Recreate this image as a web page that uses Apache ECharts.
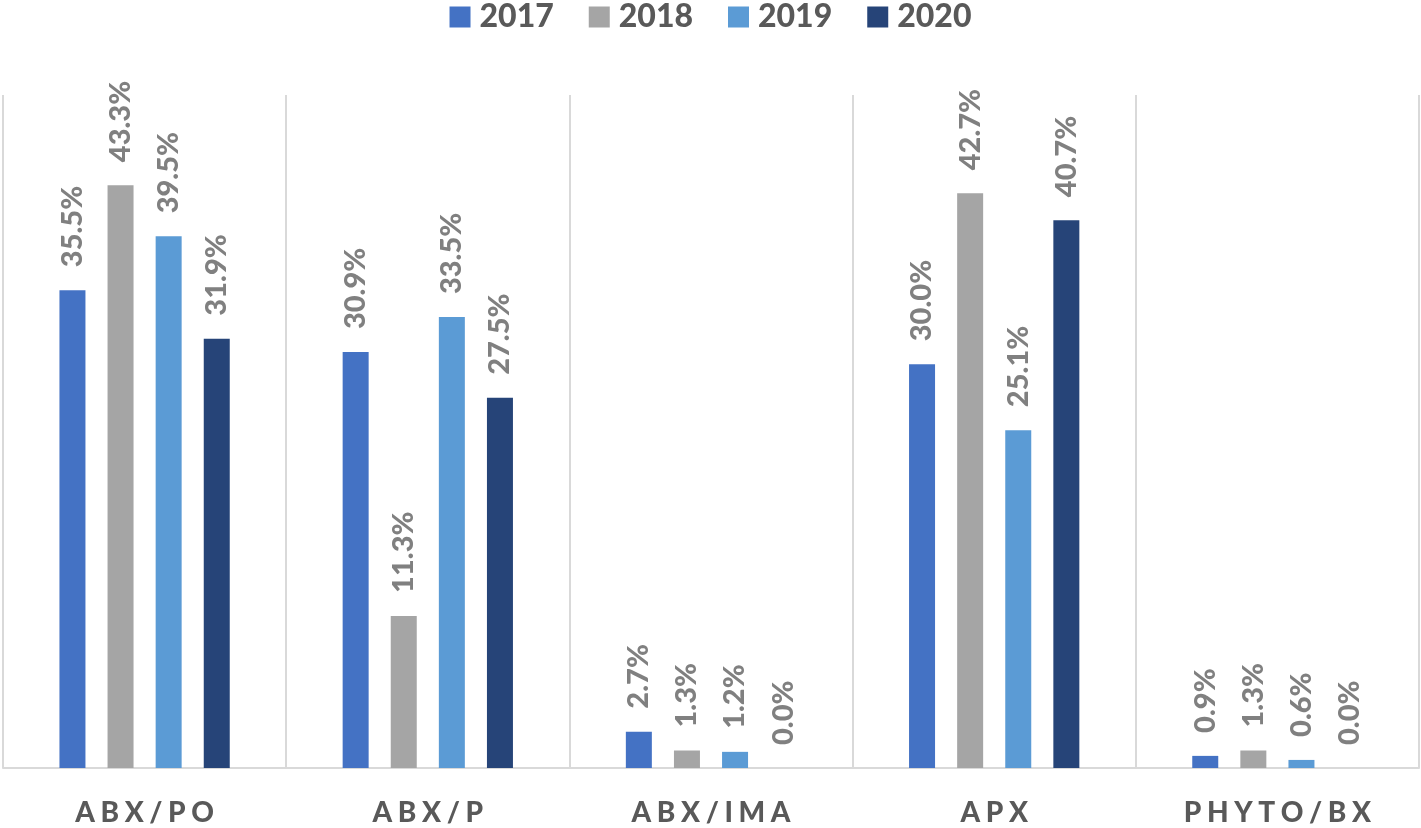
<!DOCTYPE html>
<html>
<head>
<meta charset="utf-8">
<script src="https://cdn.jsdelivr.net/npm/echarts@6/dist/echarts.min.js"></script>
<style>html,body{margin:0;padding:0;background:#fff;}#c{width:1421px;height:828px;}</style>
</head>
<body>
<div id="c"></div>
<script>
const categories = ['ABX/PO', 'ABX/P', 'ABX/IMA', 'APX', 'PHYTO/BX'];
const years = ['2017', '2018', '2019', '2020'];
const v2017 = [35.5, 30.9, 2.7, 30.0, 0.9];
const v2018 = [43.3, 11.3, 1.3, 42.7, 1.3];
const v2019 = [39.5, 33.5, 1.2, 25.1, 0.6];
const v2020 = [31.9, 27.5, 0.0, 40.7, 0.0];
const colors = ['#4472C4', '#A5A5A5', '#5B9BD5', '#264478'];
const seriesValues = [v2017, v2018, v2019, v2020];

const chart = echarts.init(document.getElementById('c'));
const font = 'Lato, "Open Sans", sans-serif';
chart.setOption({
  animation: false,
  textStyle: { fontFamily: font },
  legend: {
    top: -4,
    left: 'center',
    icon: 'rect',
    itemWidth: 21,
    itemHeight: 21,
    itemGap: 35,
    textStyle: { fontSize: 32, fontWeight: 900, color: '#595959', fontFamily: font, padding: [0, 0, 0, 4] }
  },
  grid: { left: 3, right: 2, top: 95, bottom: 60, containLabel: false },
  xAxis: {
    type: 'category',
    data: categories,
    axisTick: { show: false },
    axisLine: { lineStyle: { color: '#d9d9d9', width: 2 } },
    splitLine: { show: true, lineStyle: { color: '#d9d9d9', width: 2 } },
    axisLabel: {
      margin: 31,
      formatter: v => v.split('').map(c => '{a|' + c + '}').join(''),
      rich: {
        a: { fontSize: 28, fontWeight: 900, color: '#595959', fontFamily: font, padding: [0, 2.8, 0, 2.8] }
      }
    }
  },
  yAxis: {
    type: 'value',
    min: 0,
    max: 50,
    show: false,
    splitLine: { show: false }
  },
  series: seriesValues.map((vals, i) => ({
    name: years[i],
    type: 'bar',
    data: vals,
    barWidth: 26,
    barGap: '85%',
    barCategoryGap: '40%',
    itemStyle: { color: colors[i] },
    label: {
      show: true,
      position: 'top',
      rotate: 90,
      align: 'left',
      verticalAlign: 'middle',
      distance: 23,
      fontSize: 29,
      fontWeight: 900,
      color: '#808080',
      fontFamily: font,
      formatter: p => p.value.toFixed(1) + '%'
    }
  }))
});
</script>
</body>
</html>
